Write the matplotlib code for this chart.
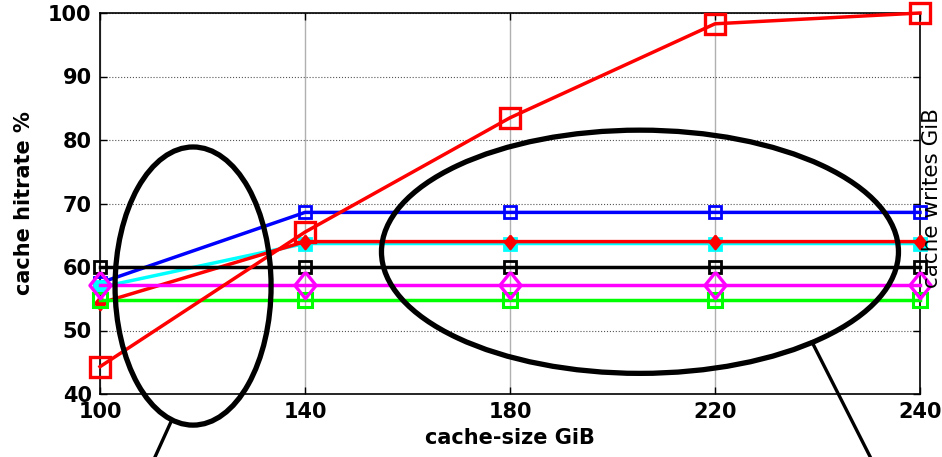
import matplotlib.pyplot as plt
from matplotlib.patches import Ellipse
import numpy as np

# cache sizes (plotted at equal spacing)
cache_size = ["100", "140", "180", "220", "240"]

# hit rate series (%)
red_big = [44.3, 65.5, 83.5, 98.3, 100.0]
blue = [57.5, 68.6, 68.6, 68.6, 68.6]
cyan = [56.8, 63.7, 63.7, 63.7, 63.7]
red_small = [54.3, 64.0, 64.0, 64.0, 64.0]
black = [60.0, 60.0, 60.0, 60.0, 60.0]
green = [54.8, 54.8, 54.8, 54.8, 54.8]
magenta = [57.2, 57.2, 57.2, 57.2, 57.2]

x = np.arange(len(cache_size))

# matlab style diamond, a bit taller than wide
diamond = [(0, 1), (0.8, 0), (0, -1), (-0.8, 0), (0, 1)]

fig = plt.figure(figsize=(9.42, 4.57), dpi=100)
ax = fig.add_axes([100/942, 1-394/457, 820/942, 381/457])

lw = 2.5
ax.plot(x, blue, color="#0000ff", lw=lw, marker="s", ms=8, mfc="none", mew=2, zorder=3, clip_on=False)
ax.plot(x, cyan, color="#00ffff", lw=lw, marker="s", ms=8, mfc="#00ffff", mew=2, zorder=3, clip_on=False)
ax.plot(x, red_small, color="#ff0000", lw=lw, marker=diamond, ms=10, mfc="#ff0000", mew=1.5, zorder=3, clip_on=False)
ax.plot(x, black, color="black", lw=lw, marker="s", ms=8, mfc="none", mew=2, zorder=3, clip_on=False)
ax.plot(x, green, color="#00ff00", lw=lw, marker="s", ms=10, mfc="none", mew=2.2, zorder=3, clip_on=False)
ax.plot(x, magenta, color="#ff00ff", lw=lw, marker=diamond, ms=19, mfc="none", mew=2.4, zorder=3, clip_on=False)
ax.plot(x, red_big, color="#ff0000", lw=lw, marker="s", ms=14, mfc="none", mew=2.4, zorder=3, clip_on=False)

ax.set_xlim(0, 4)
ax.set_ylim(40, 100)
ax.set_xticks(x)
ax.set_xticklabels(cache_size)
ax.set_yticks([40, 50, 60, 70, 80, 90, 100])

ax.grid(axis="x", color="#b0b0b0", linestyle="-", linewidth=1)
ax.grid(axis="y", color="#555555", linestyle=":", linewidth=0.8)
ax.tick_params(direction="in", length=5, width=1, top=True, right=True, labelsize=15, pad=6)
for lab in ax.get_xticklabels() + ax.get_yticklabels():
    lab.set_fontweight("bold")
for sp in ax.spines.values():
    sp.set_linewidth(1.2)

ax.set_xlabel("cache-size GiB", fontsize=15, fontweight="bold", labelpad=4)
ax.set_ylabel("cache hitrate %", fontsize=15, fontweight="bold", labelpad=10)
fig.text(932/942, 1-198/457, "cache writes GiB", rotation=90, fontsize=15.5,
         ha="center", va="center")

# annotation ellipses and pointer lines
ell1 = Ellipse((0.454, 57.0), 0.761, 43.8, fill=False, lw=3.8, color="black", clip_on=False, zorder=5)
ell2 = Ellipse((2.634, 62.4), 2.522, 38.3, fill=False, lw=3.8, color="black", clip_on=False, zorder=5)
ax.add_patch(ell1)
ax.add_patch(ell2)
ptr1_x = [0.346, 0.239]
ptr1_y = [35.6, 28.0]
ptr2_x = [3.473, 3.790]
ptr2_y = [48.2, 28.0]
ax.plot(ptr1_x, ptr1_y, color="black", lw=2.4, clip_on=False, zorder=5)
ax.plot(ptr2_x, ptr2_y, color="black", lw=2.4, clip_on=False, zorder=5)

fig.savefig("out.png", dpi=100)
